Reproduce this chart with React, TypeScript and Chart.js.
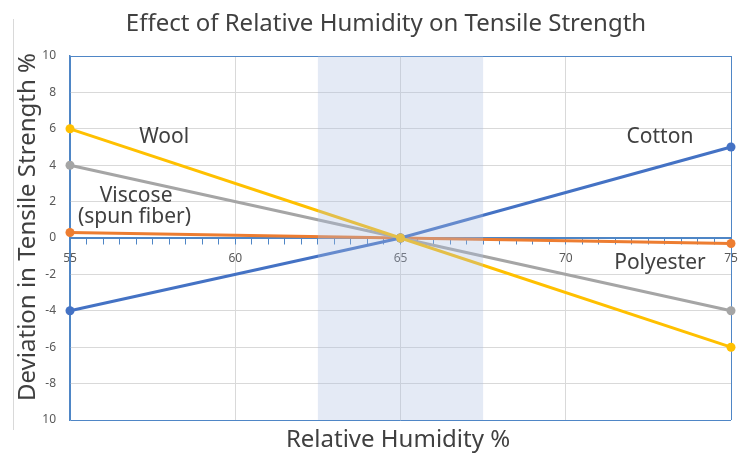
import React, { useEffect, useRef } from "react";
import { Chart, registerables } from "chart.js";

Chart.register(...registerables);

const humidity = [55, 65, 75];
const wool = [6, 0, -6];
const viscose = [4, 0, -4];
const polyester = [0.3, 0, -0.3];
const cotton = [-4, 0, 5];
const yTicks = [-10, -8, -6, -4, -2, 0, 2, 4, 6, 8, 10];
const xLabelTicks = [55, 60, 65, 70, 75];
const band = [62.5, 67.5];

const FONT = "'Noto Sans', sans-serif";
const BLUE = "#4F86C6";
const GRID = "#D9D9D9";
const TXT = "#404040";

const labels = [
  { text: "Wool", x: 57.85, y: 5.55 },
  { text: "Cotton", x: 72.85, y: 5.55 },
  { text: "Viscose", x: 57.0, y: 2.3 },
  { text: "(spun fiber)", x: 56.95, y: 1.15 },
  { text: "Polyester", x: 72.85, y: -1.4 },
];

const mk = (label: string, data: number[], color: string) => ({
  label,
  data: humidity.map((h, i) => ({ x: h, y: data[i] })),
  borderColor: color,
  backgroundColor: color,
  borderWidth: 3,
  pointRadius: 4.5,
  pointHoverRadius: 4.5,
  pointBorderWidth: 0,
  tension: 0,
  clip: false as any,
});

const decor = {
  id: "decor",
  afterDatasetsDraw(chart: any) {
    const { ctx, chartArea, scales } = chart;
    const xs = scales.x;
    const ys = scales.y;
    ctx.save();
    ctx.fillStyle = "rgba(170,190,225,0.32)";
    const x1 = xs.getPixelForValue(band[0]);
    const x2 = xs.getPixelForValue(band[1]);
    ctx.fillRect(x1, chartArea.top, x2 - x1, chartArea.bottom - chartArea.top);
    ctx.fillStyle = TXT;
    ctx.font = `21px ${FONT}`;
    ctx.textAlign = "center";
    ctx.textBaseline = "middle";
    for (const l of labels) {
      ctx.fillText(l.text, xs.getPixelForValue(l.x), ys.getPixelForValue(l.y));
    }
    ctx.restore();
  },
  afterDraw(chart: any) {
    const { ctx } = chart;
    ctx.save();
    ctx.strokeStyle = "#D9D9D9";
    ctx.lineWidth = 1;
    ctx.beginPath();
    ctx.moveTo(13.5, 19);
    ctx.lineTo(13.5, 430);
    ctx.stroke();
    ctx.fillStyle = TXT;
    ctx.textAlign = "center";
    ctx.textBaseline = "middle";
    ctx.font = `24px ${FONT}`;
    ctx.fillText("Effect of Relative Humidity on Tensile Strength", 386, 24);
    ctx.fillText("Relative Humidity %", 398, 440);
    ctx.translate(28, 227);
    ctx.rotate(-Math.PI / 2);
    ctx.fillText("Deviation in Tensile Strength %", 0, 0);
    ctx.restore();
  },
};

export default function App() {
  const ref = useRef<HTMLCanvasElement>(null);
  useEffect(() => {
    document.body.style.margin = "0";
    const chart = new Chart(ref.current!, {
      type: "line",
      data: {
        datasets: [
          mk("Wool", wool, "#FFC000"),
          mk("Cotton", cotton, "#4472C4"),
          mk("Viscose", viscose, "#A5A5A5"),
          mk("Polyester", polyester, "#ED7D31"),
        ],
      },
      options: {
        animation: false,
        responsive: false,
        events: [],
        layout: { padding: { left: 0, top: 56, right: 16, bottom: 35 } },
        plugins: { legend: { display: false }, tooltip: { enabled: false } },
        scales: {
          x: {
            type: "linear",
            position: { y: 0 } as any,
            min: 55,
            max: 75,
            afterBuildTicks: (s: any) => {
              const t = [];
              for (let v = 55; v <= 75.001; v += 0.5) t.push({ value: Math.round(v * 10) / 10 });
              s.ticks = t;
            },
            ticks: {
              autoSkip: false,
              maxRotation: 0,
              padding: 7,
              color: "#595959",
              font: { family: FONT, size: 12 },
              callback: (v: any) => (xLabelTicks.includes(Number(v)) ? String(v) : ""),
            },
            grid: {
              color: (c: any) => {
                const v = c.tick?.value;
                if (v === 55 || v === 75) return BLUE;
                return xLabelTicks.includes(v) ? GRID : "rgba(0,0,0,0)";
              },
              tickColor: BLUE,
              tickLength: 6,
              lineWidth: 1,
            },
            border: { color: BLUE, width: 1.5 },
          },
          y: {
            min: -10,
            max: 10,
            afterBuildTicks: (s: any) => {
              s.ticks = yTicks.map((v) => ({ value: v }));
            },
            afterFit: (s: any) => {
              s.width = 70;
            },
            ticks: {
              padding: 14,
              color: "#595959",
              font: { family: FONT, size: 12 },
              callback: (v: any) => (Number(v) === -10 ? "10" : String(v)),
            },
            grid: {
              drawTicks: false,
              color: (c: any) => {
                const v = c.tick?.value;
                return v === 10 || v === -10 || v === 0 ? BLUE : GRID;
              },
              lineWidth: 1,
            },
            border: { color: BLUE, width: 1.5 },
          },
        },
      },
      plugins: [decor],
    });
    return () => chart.destroy();
  }, []);
  return <canvas ref={ref} width={747} height={455} style={{ display: "block" }} />;
}
